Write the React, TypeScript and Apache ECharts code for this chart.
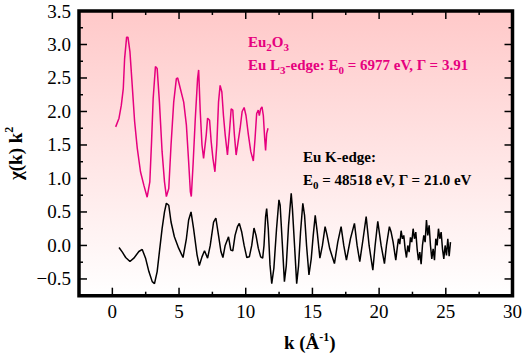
import React, { useEffect, useRef } from "react";
import * as echarts from "echarts";

const xMajor = [0, 5, 10, 15, 20, 25, 30];
const xMinor = [2.5, 7.5, 12.5, 17.5, 22.5, 27.5];
const yMajor = [-0.5, 0, 0.5, 1, 1.5, 2, 2.5, 3, 3.5];
const yMinor = [-0.25, 0.25, 0.75, 1.25, 1.75, 2.25, 2.75, 3.25];
const xRange = [-2.5, 30];
const yRange = [-0.75, 3.5];

// Eu2O3, Eu L3-edge (offset curve), [k, chi*k^2]
const euL3Edge = [
  [0.25, 1.77], [0.5, 1.9], [0.67, 2.09], [0.82, 2.34], [0.92, 2.79], [1.07, 3.11], [1.17, 3.11],
  [1.32, 2.89], [1.49, 2.39], [1.67, 1.85], [1.87, 1.45], [2.11, 1.1], [2.36, 0.9], [2.61, 0.72],
  [2.81, 0.95], [2.94, 1.55], [3.06, 2.19], [3.23, 2.67], [3.36, 2.64], [3.53, 2.14], [3.73, 1.4],
  [3.91, 0.95], [4.05, 0.73], [4.23, 0.85], [4.4, 1.5], [4.6, 2.14], [4.8, 2.49], [4.9, 2.5],
  [5.1, 2.34], [5.35, 2.14], [5.55, 1.8], [5.72, 1.25], [5.85, 0.8], [5.92, 0.73], [6.05, 1.2],
  [6.22, 1.9], [6.39, 2.49], [6.47, 2.62], [6.59, 2.0], [6.72, 1.5], [6.84, 1.3], [7.04, 1.65],
  [7.14, 1.9], [7.29, 1.87], [7.41, 1.55], [7.54, 1.3], [7.69, 1.1], [7.83, 1.5], [7.96, 2.14],
  [8.08, 2.39], [8.21, 2.29], [8.33, 1.94], [8.46, 1.65], [8.63, 1.35], [8.78, 1.7], [8.91, 2.04],
  [9.03, 2.02], [9.15, 1.65], [9.28, 1.35], [9.43, 1.55], [9.58, 1.75], [9.73, 2.0], [9.88, 2.06],
  [10.02, 1.94], [10.2, 1.65], [10.38, 1.4], [10.57, 1.26], [10.7, 1.6], [10.82, 1.97],
  [10.94, 2.02], [11.02, 1.94], [11.12, 2.04], [11.22, 2.07], [11.32, 1.94], [11.42, 1.6],
  [11.49, 1.42], [11.57, 1.67], [11.67, 1.75],
];

// Eu K-edge, [k, chi*k^2]
const euKEdge = [
  [0.5, -0.03], [0.75, -0.1], [1.0, -0.18], [1.32, -0.24], [1.61, -0.19], [1.99, -0.09],
  [2.24, -0.06], [2.49, -0.19], [2.74, -0.39], [2.99, -0.54], [3.16, -0.57], [3.36, -0.39],
  [3.56, -0.04], [3.73, 0.25], [3.91, 0.5], [4.05, 0.63], [4.23, 0.6], [4.4, 0.35], [4.65, 0.13],
  [4.97, -0.04], [5.3, -0.18], [5.55, 0.1], [5.72, 0.38], [5.9, 0.5], [6.09, 0.25], [6.35, -0.14],
  [6.52, -0.3], [6.72, -0.17], [6.91, -0.08], [7.14, -0.19], [7.34, 0.0], [7.59, 0.35], [7.76, 0.41],
  [7.96, 0.15], [8.14, -0.09], [8.29, -0.18], [8.46, 0.0], [8.71, 0.13], [8.88, -0.07], [9.03, -0.08],
  [9.2, 0.15], [9.38, 0.28], [9.52, 0.33], [9.7, 0.2], [9.88, 0.0], [10.08, -0.18], [10.27, -0.17],
  [10.45, 0.0], [10.62, 0.26], [10.77, 0.15], [10.94, -0.04], [11.12, -0.17], [11.27, -0.19],
  [11.37, 0.0], [11.49, 0.43], [11.57, 0.55], [11.69, 0.25], [11.82, -0.29], [11.95, -0.57],
  [12.11, -0.34], [12.31, 0.25], [12.49, 0.68], [12.58, 0.6], [12.75, 0.0], [12.9, -0.54],
  [13.04, -0.3], [13.21, 0.3], [13.41, 0.78], [13.5, 0.55], [13.66, 0.0], [13.82, -0.57],
  [13.96, -0.3], [14.11, 0.2], [14.28, 0.63], [14.41, 0.45], [14.56, 0.0], [14.74, -0.44],
  [14.91, -0.2], [15.06, 0.15], [15.21, 0.45], [15.36, 0.2], [15.56, -0.19], [15.75, 0.0],
  [15.95, 0.28], [16.1, 0.15], [16.3, -0.05], [16.65, -0.27], [16.9, 0.05], [17.15, 0.28],
  [17.35, 0.0], [17.55, -0.22], [17.85, 0.1], [18.15, 0.33], [18.35, 0.0], [18.55, -0.24],
  [18.8, 0.1], [19.03, 0.43], [19.25, 0.0], [19.53, -0.37], [19.7, 0.0], [19.9, 0.36], [20.15, 0.0],
  [20.4, -0.27], [20.55, 0.0], [20.77, 0.28], [20.9, 0.2], [21.05, 0.05], [21.25, -0.22],
  [21.35, -0.05], [21.45, 0.1], [21.55, 0.02], [21.65, 0.22], [21.75, 0.1], [21.85, 0.15],
  [21.95, -0.05], [22.05, -0.18], [22.15, 0.0], [22.25, -0.1], [22.35, 0.12], [22.45, 0.05],
  [22.55, 0.25], [22.65, 0.1], [22.75, 0.2], [22.85, -0.05], [22.95, -0.22], [23.05, -0.1],
  [23.15, -0.28], [23.25, 0.0], [23.35, 0.15], [23.45, 0.05], [23.55, 0.38], [23.65, 0.15],
  [23.75, 0.3], [23.85, 0.0], [23.95, -0.2], [24.05, -0.05], [24.15, -0.22], [24.25, 0.1],
  [24.35, 0.0], [24.45, 0.25], [24.55, 0.1], [24.65, 0.2], [24.75, -0.05], [24.85, -0.2],
  [24.95, 0.0], [25.05, -0.15], [25.15, 0.1], [25.25, -0.16], [25.35, 0.05],
];

const MAGENTA = "#e6007e";
const SERIF = "Liberation Serif";

const GRID = { left: 79, right: 12.5, top: 11, bottom: 59.3 };
const W = 525;
const H = 355;

const nameRich = {
  b: { fontSize: 19, lineHeight: 24, fontWeight: "bold", fontFamily: SERIF, color: "#000" },
  sup: { fontSize: 12, lineHeight: 14, fontWeight: "bold", fontFamily: SERIF, color: "#000", verticalAlign: "top" },
};
const labelRich = { t: { fontSize: 19, fontFamily: SERIF, color: "#000" } };

export default function App() {
  const ref = useRef<HTMLDivElement>(null);
  useEffect(() => {
    if (!ref.current) return;
    const chart = echarts.init(ref.current, undefined, { renderer: "svg" });
    const mkText = (x: number, y: number, text: string, color: string) => ({
      type: "text",
      x,
      y,
      z: 20,
      style: {
        text,
        fill: color,
        textAlign: "left",
        textVerticalAlign: "top",
        rich: {
          m: { fontSize: 15, lineHeight: 20, fontWeight: "bold", fontFamily: SERIF, fill: color },
          sub: { fontSize: 11, lineHeight: 8, verticalAlign: "bottom", fontWeight: "bold", fontFamily: SERIF, fill: color },
        },
      },
    });
    chart.setOption({
      animation: false,
      grid: { ...GRID, containLabel: false, outerBoundsMode: "none" },
      xAxis: {
        type: "value",
        min: xRange[0],
        max: xRange[1],
        axisLine: { show: false, onZero: false },
        axisTick: { show: false },
        splitLine: { show: false },
        axisLabel: {
          show: true,
          customValues: xMajor,
          margin: 6,
          formatter: (v: number) => `{t|${v}}`,
          rich: labelRich,
        },
        name: "{b|k (\u00c5}{sup|-1}{b|)}",
        nameLocation: "middle",
        nameGap: 35,
        nameTextStyle: { rich: nameRich, padding: [0, 0, 0, 28] },
      },
      yAxis: {
        type: "value",
        min: yRange[0],
        max: yRange[1],
        axisLine: { show: false, onZero: false },
        axisTick: { show: false },
        splitLine: { show: false },
        axisLabel: {
          show: true,
          customValues: yMajor,
          margin: 8,
          formatter: (v: number) => `{t|${v < 0 ? "\u2212" + Math.abs(v).toFixed(1) : v.toFixed(1)}}`,
          rich: labelRich,
        },
        name: "{b|\u03c7(k) k}{sup|2}",
        nameLocation: "middle",
        nameRotate: 90,
        nameGap: 52,
        nameTextStyle: { rich: nameRich },
      },
      series: [
        {
          type: "line",
          data: euL3Edge,
          showSymbol: false,
          lineStyle: { color: MAGENTA, width: 1.5 },
        },
        {
          type: "line",
          data: euKEdge,
          showSymbol: false,
          lineStyle: { color: "#000", width: 1.5 },
        },
      ],
    });

    const px = (v: number) => chart.convertToPixel({ xAxisIndex: 0 }, v) as number;
    const py = (v: number) => chart.convertToPixel({ yAxisIndex: 0 }, v) as number;
    const L = px(xRange[0]);
    const R = px(xRange[1]);
    const T = py(yRange[1]);
    const B = py(yRange[0]);
    const tick = (x1: number, y1: number, x2: number, y2: number) => ({
      type: "line",
      z: 15,
      silent: true,
      shape: { x1, y1, x2, y2 },
      style: { stroke: "#000", lineWidth: 1.5 },
    });
    const ticks: any[] = [];
    xMajor.forEach((v) => {
      ticks.push(tick(px(v), B, px(v), B - 8), tick(px(v), T, px(v), T + 8));
    });
    xMinor.forEach((v) => {
      ticks.push(tick(px(v), B, px(v), B - 4), tick(px(v), T, px(v), T + 4));
    });
    yMajor.forEach((v) => {
      ticks.push(tick(L, py(v), L + 8, py(v)), tick(R, py(v), R - 8, py(v)));
    });
    yMinor.forEach((v) => {
      ticks.push(tick(L, py(v), L + 4, py(v)), tick(R, py(v), R - 4, py(v)));
    });

    chart.setOption({
      graphic: [
        {
          type: "rect",
          z: 16,
          silent: true,
          shape: { x: L, y: T, width: R - L, height: B - T },
          style: { fill: "none", stroke: "#000", lineWidth: 3.5 },
        },
        ...ticks,
        mkText(248, 32, "{m|Eu}{sub|2}{m|O}{sub|3}", MAGENTA),
        mkText(248, 55, "{m|Eu L}{sub|3}{m|-edge: E}{sub|0}{m| = 6977 eV, \u0393 = 3.91}", MAGENTA),
        mkText(303, 147, "{m|Eu K-edge:}", "#000"),
        mkText(303, 170, "{m|E}{sub|0}{m| = 48518 eV, \u0393 = 21.0 eV}", "#000"),
      ],
    });
    return () => chart.dispose();
  }, []);
  return (
    <div style={{ position: "absolute", left: 0, top: 0, width: W, height: H, background: "#fff" }}>
      <div
        style={{
          position: "absolute",
          left: GRID.left,
          top: GRID.top,
          width: W - GRID.left - GRID.right,
          height: H - GRID.top - GRID.bottom,
          background: "linear-gradient(to bottom, #ffc9c9, #ffffff)",
        }}
      />
      <div ref={ref} style={{ position: "absolute", left: 0, top: 0, width: W, height: H }} />
    </div>
  );
}
